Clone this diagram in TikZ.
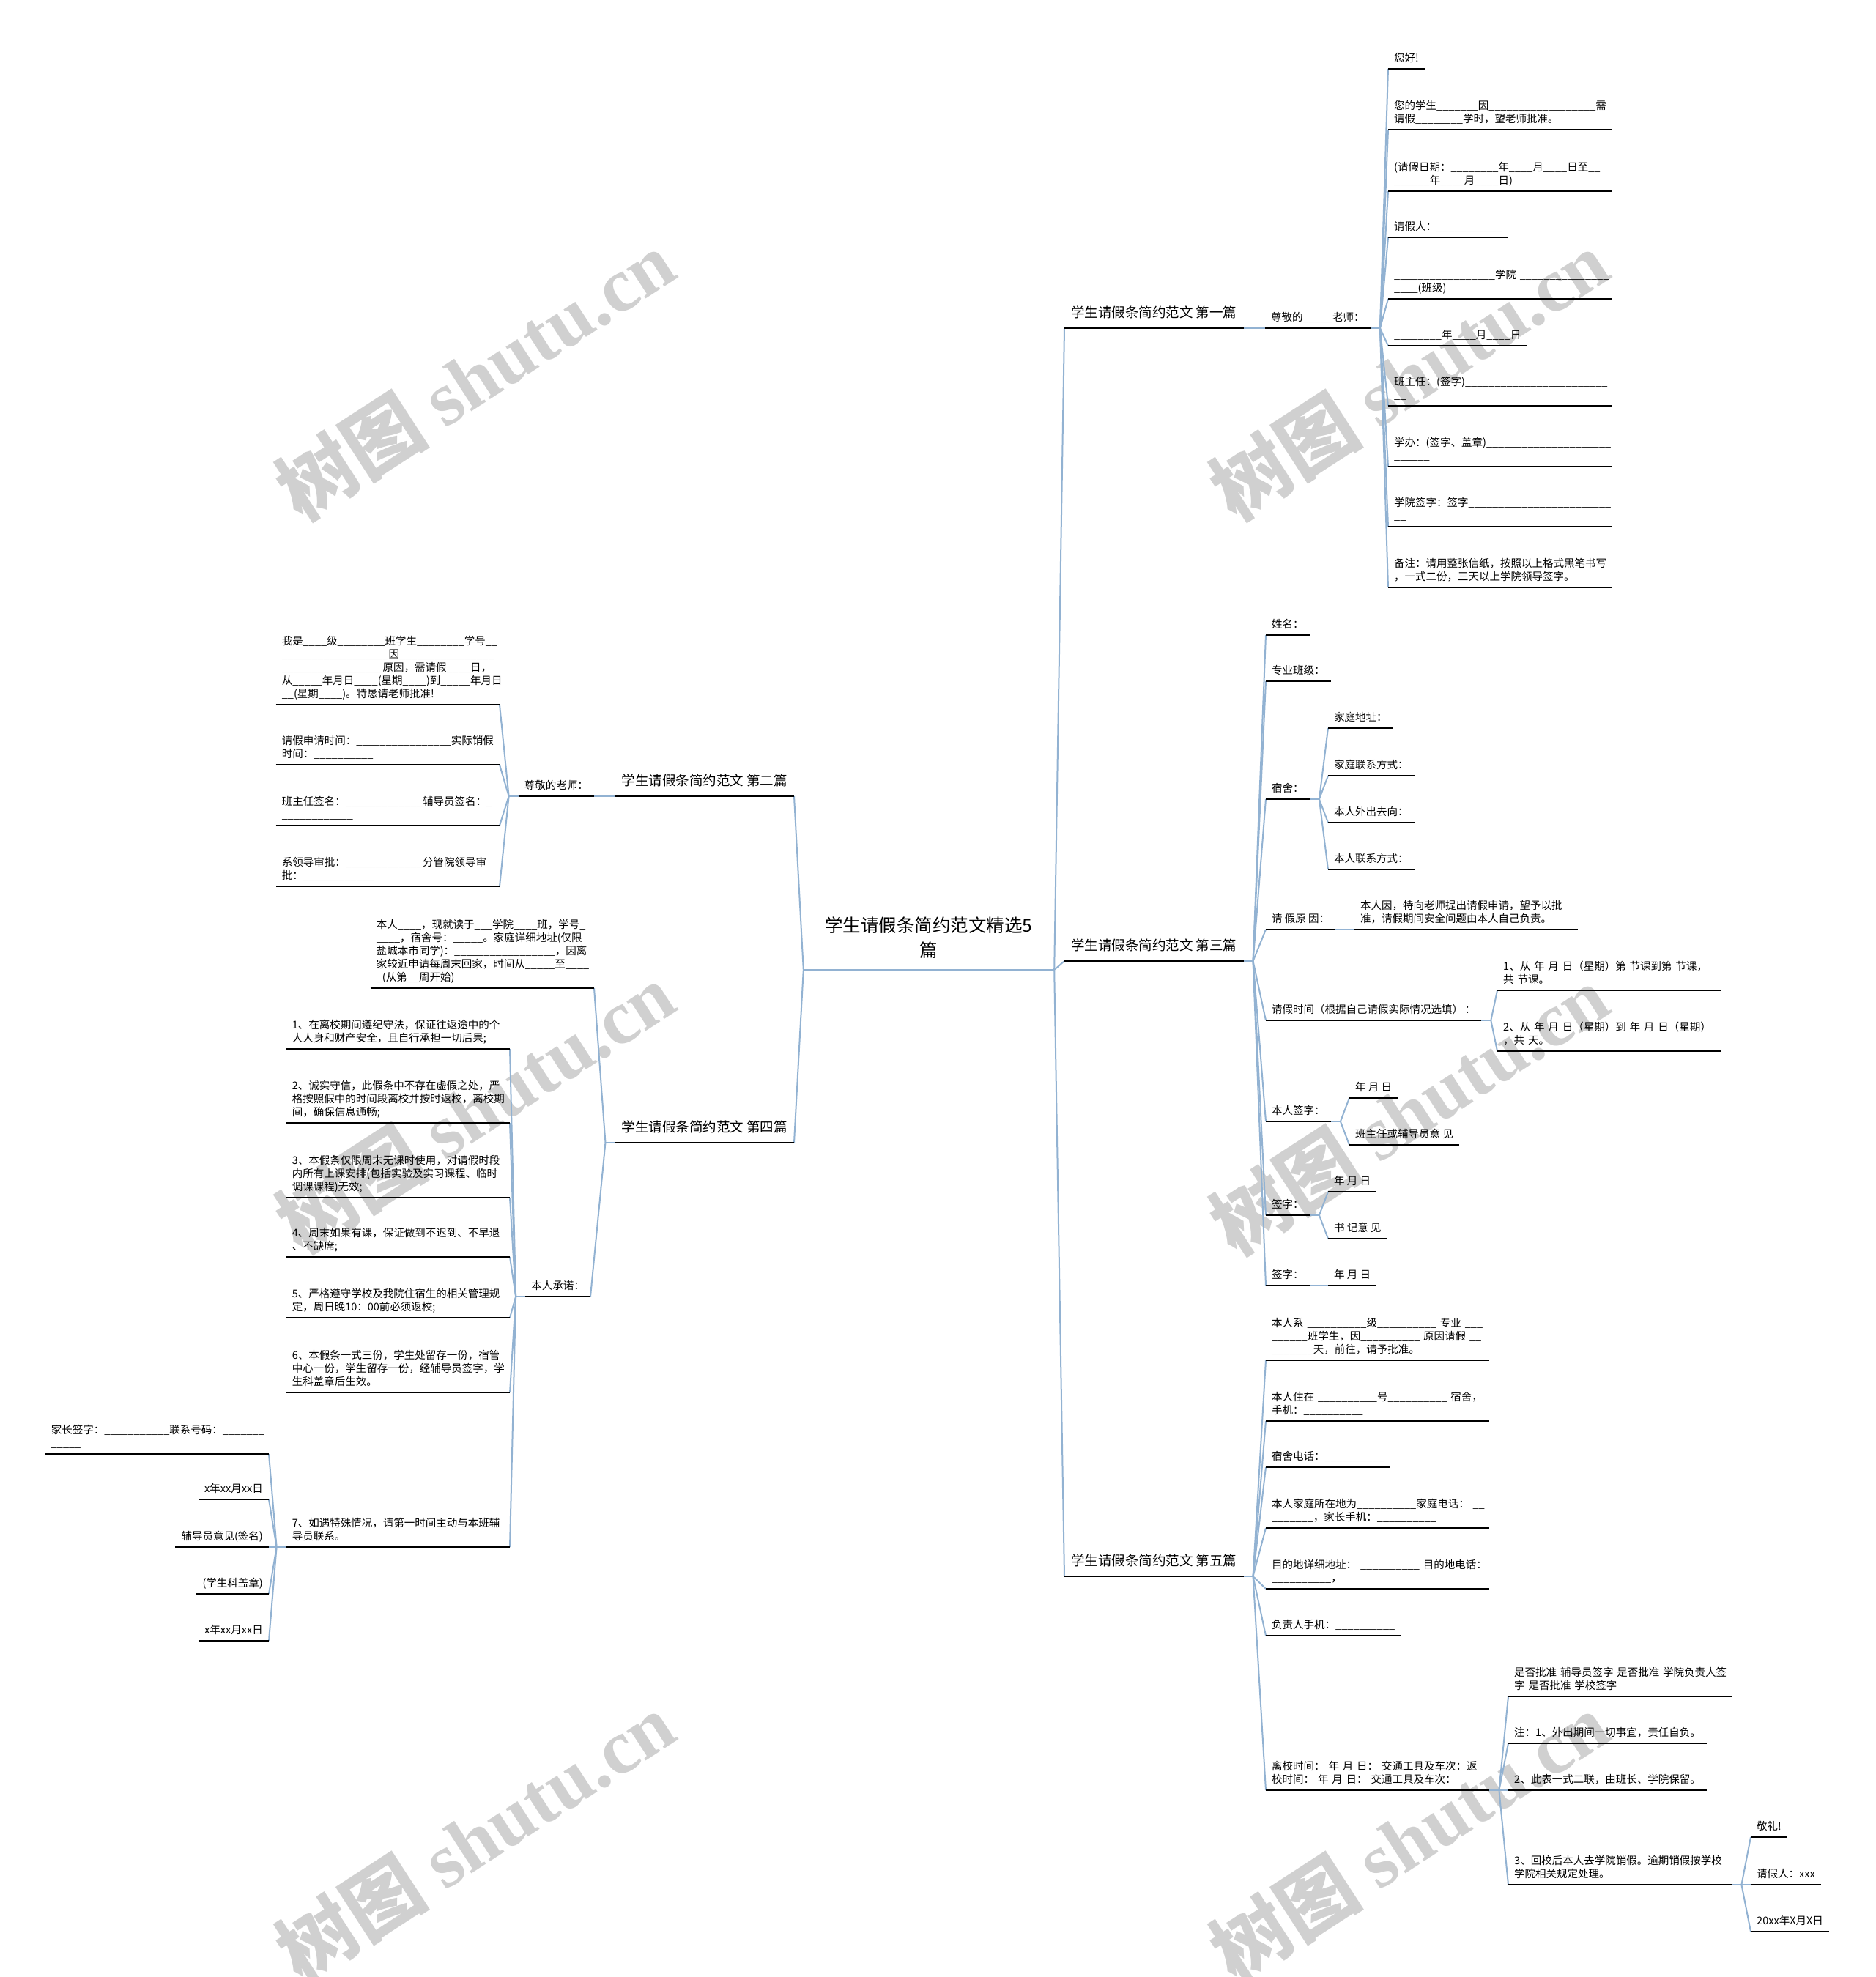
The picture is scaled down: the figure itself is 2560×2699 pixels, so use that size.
\documentclass[tikz,border=0pt]{standalone}
\usepackage{fontspec}
\setmainfont{Noto Sans CJK SC}
\newfontfamily\wmserif{Liberation Serif}
\usetikzlibrary{calc}
\definecolor{linkblue}{RGB}{146,178,210}
\definecolor{wmgray}{RGB}{208,208,208}
\newcommand\bl[1]{\ifnum#1>0 \_\expandafter\bl\expandafter{\the\numexpr#1-1\relax}\fi}
\begin{document}
\begin{tikzpicture}[x=1pt,y=-1pt,
  leaf/.style={inner xsep=8pt,inner ysep=3.6pt,font=\fontsize{14.5}{18}\selectfont,align=left,anchor=south west,execute at end node=\strut},
  leafl/.style={leaf,anchor=south east},
  wide/.style={text width=289pt},
  branch/.style={inner xsep=9pt,inner ysep=7.4pt,font=\fontsize{18.5}{22}\selectfont,anchor=south west,execute at end node=\strut},
  branchl/.style={branch,anchor=south east},
  root/.style={inner xsep=21pt,inner ysep=6.8pt,font=\fontsize{24.5}{34}\selectfont,align=center,text width=300pt,anchor=south,execute at end node=\strut},
  conn/.style={draw=linkblue,line width=2pt},
  uline/.style={draw=black,line width=2.4pt},
  wm/.style={text=wmgray,rotate=33,font=\fontsize{105}{110}\selectfont\bfseries}
]
\useasboundingbox (0,0) rectangle (2560,2699);
% watermarks
\foreach \p [count=\i] in {(648,512),(1923,512),(648,1512),(1923,1515),(648,2508),(1923,2508)}
  \node[wm] (wm\i) at \p {树图 {\wmserif shutu.cn}};

% root
\node[root] (root) at (1268,1324) {学生请假条简约范文精选5\\篇};

% ---------- branch 1
\node[branch] (b1) at (1453,448) {学生请假条简约范文 第一篇};
\node[leaf] (b1t) at (1727,448) {尊敬的\bl{5}老师：};
\node[leaf] (r1a) at (1895,94) {您好!};
\node[leaf,wide] (r1b) at (1895,177) {您的学生\bl{7}因\bl{18}需\\请假\bl{8}学时，望老师批准。};
\node[leaf,wide] (r1c) at (1895,261) {(请假日期：\bl{8}年\bl{4}月\bl{4}日至\bl{2}\\\bl{6}年\bl{4}月\bl{4}日)};
\node[leaf] (r1d) at (1895,324) {请假人：\bl{11}};
\node[leaf,wide] (r1e) at (1895,408) {\bl{17}学院~\bl{15}\\\bl{4}(班级)};
\node[leaf] (r1f) at (1895,472) {\bl{8}年\bl{4}月\bl{4}日};
\node[leaf,wide] (r1g) at (1895,554) {班主任：(签字)\bl{24}\\\bl{2}};
\node[leaf,wide] (r1h) at (1895,637) {学办：(签字、盖章)\bl{21}\\\bl{6}};
\node[leaf,wide] (r1i) at (1895,719) {学院签字：签字\bl{24}\\\bl{2}};
\node[leaf,wide] (r1j) at (1895,802) {备注：请用整张信纸，按照以上格式黑笔书写\\，一式二份，三天以上学院领导签字。};

% ---------- branch 3
\node[branch] (b3) at (1453,1312) {学生请假条简约范文 第三篇};
\node[leaf] (r3a) at (1728,867) {姓名：};
\node[leaf] (r3b) at (1728,930) {专业班级：};
\node[leaf] (r3c) at (1728,1091) {宿舍：};
\node[leaf] (r3c1) at (1813,994) {家庭地址：};
\node[leaf] (r3c2) at (1813,1059) {家庭联系方式：};
\node[leaf] (r3c3) at (1813,1123) {本人外出去向：};
\node[leaf] (r3c4) at (1813,1187) {本人联系方式：};
\node[leaf] (r3d) at (1728,1269) {请 假原 因：};
\node[leaf,wide] (r3d1) at (1849,1269) {本人因，特向老师提出请假申请，望予以批\\准，请假期间安全问题由本人自己负责。};
\node[leaf] (r3e) at (1728,1393) {请假时间（根据自己请假实际情况选填）\,：};
\node[leaf,wide] (r3e1) at (2044,1352) {1、从~年~月~日（星期）第~节课到第~节课，\\共~节课。};
\node[leaf,wide] (r3e2) at (2044,1435) {2、从~年~月~日（星期）到~年~月~日（星期）\\，共~天。};
\node[leaf] (r3f) at (1728,1531) {本人签字：};
\node[leaf] (r3f1) at (1842,1499) {年 月 日};
\node[leaf] (r3f2) at (1842,1563) {班主任或辅导员意 见};
\node[leaf] (r3g) at (1728,1659) {签字：};
\node[leaf] (r3g1) at (1813,1627) {年 月 日};
\node[leaf] (r3g2) at (1813,1691) {书 记意 见};
\node[leaf] (r3h) at (1728,1755) {签字：};
\node[leaf] (r3h1) at (1813,1755) {年 月 日};

% ---------- branch 5
\node[branch] (b5) at (1453,2152) {学生请假条简约范文 第五篇};
\node[leaf,wide] (r5a) at (1728,1857) {本人系~\bl{10}级\bl{10}~专业~\bl{3}\\\bl{6}班学生，因\bl{10}~原因请假~\bl{2}\\\bl{7}天，前往，请予批准。};
\node[leaf,wide] (r5b) at (1728,1940) {本人住在~\bl{10}号\bl{10}~宿舍，\\手机：\bl{10}};
\node[leaf] (r5c) at (1728,2003) {宿舍电话：\bl{10}};
\node[leaf,wide] (r5d) at (1728,2086) {本人家庭所在地为\bl{10}家庭电话：~\bl{2}\\\bl{7}，家长手机：\bl{10}};
\node[leaf,wide] (r5e) at (1728,2169) {目的地详细地址：~\bl{10}~目的地电话：\\\bl{10}，};
\node[leaf] (r5f) at (1728,2233) {负责人手机：\bl{10}};
\node[leaf,wide] (r5g) at (1728,2444) {离校时间：~年~月~日：~交通工具及车次：返\\校时间：~年~月~日：~交通工具及车次：};
\node[leaf,wide] (r5g1) at (2059,2316) {是否批准~辅导员签字~是否批准~学院负责人签\\字~是否批准~学校签字};
\node[leaf] (r5g2) at (2059,2380) {注：1、外出期间一切事宜，责任自负。};
\node[leaf] (r5g3) at (2059,2444) {2、此表一式二联，由班长、学院保留。};
\node[leaf,wide] (r5g4) at (2059,2573) {3、回校后本人去学院销假。逾期销假按学校\\学院相关规定处理。};
\node[leaf] (r5h1) at (2390,2508) {敬礼!};
\node[leaf] (r5h2) at (2390,2573) {请假人：xxx};
\node[leaf] (r5h3) at (2390,2637) {20xx年X月X日};

% ---------- branch 2 (left)
\node[branchl] (b2) at (1084,1087) {学生请假条简约范文 第二篇};
\node[leafl] (b2t) at (811,1087) {尊敬的老师：};
\node[leafl,wide] (l2a) at (682,962) {我是\bl{4}级\bl{8}班学生\bl{8}学号\bl{2}\\\bl{18}因\bl{16}\\\bl{17}原因，需请假\bl{4}日，\\从\bl{5}年月日\bl{4}(星期\bl{4})到\bl{5}年月日\\\bl{2}(星期\bl{4})。特恳请老师批准!};
\node[leafl,wide] (l2b) at (682,1044) {请假申请时间：\bl{16}实际销假\\时间：\bl{10}};
\node[leafl,wide] (l2c) at (682,1127) {班主任签名：\bl{13}辅导员签名：\bl{1}\\\bl{12}};
\node[leafl,wide] (l2d) at (682,1210) {系领导审批：\bl{13}分管院领导审\\批：\bl{12}};

% ---------- branch 4 (left)
\node[branchl] (b4) at (1084,1560) {学生请假条简约范文 第四篇};
\node[leafl,wide] (l4a) at (811,1349) {本人\bl{4}，现就读于\bl{3}学院\bl{4}班，学号\bl{1}\\\bl{4}，宿舍号：\bl{5}。家庭详细地址(仅限\\盐城本市同学)：\bl{17}，因离\\家较近申请每周末回家，时间从\bl{5}至\bl{4}\\\bl{1}(从第\bl{2}周开始)};
\node[leafl] (l4b) at (806,1770) {本人承诺：};
\node[leafl,wide] (l4b1) at (696,1432) {1、在离校期间遵纪守法，保证往返途中的个\\人人身和财产安全，且自行承担一切后果;};
\node[leafl,wide] (l4b2) at (696,1533) {2、诚实守信，此假条中不存在虚假之处，严\\格按照假中的时间段离校并按时返校，离校期\\间，确保信息通畅;};
\node[leafl,wide] (l4b3) at (696,1635) {3、本假条仅限周末无课时使用，对请假时段\\内所有上课安排(包括实验及实习课程、临时\\调课课程)无效;};
\node[leafl,wide] (l4b4) at (696,1716) {4、周末如果有课，保证做到不迟到、不早退\\、不缺席;};
\node[leafl,wide] (l4b5) at (696,1799) {5、严格遵守学校及我院住宿生的相关管理规\\定，周日晚10：00前必须返校;};
\node[leafl,wide] (l4b6) at (696,1901) {6、本假条一式三份，学生处留存一份，宿管\\中心一份，学生留存一份，经辅导员签字，学\\生科盖章后生效。};
\node[leafl,wide] (l4b7) at (696,2112) {7、如遇特殊情况，请第一时间主动与本班辅\\导员联系。};
\node[leafl,wide] (l4c1) at (367,1985) {家长签字：\bl{11}联系号码：\bl{7}\\\bl{5}};
\node[leafl] (l4c2) at (367,2047) {x年xx月xx日};
\node[leafl] (l4c3) at (367,2112) {辅导员意见(签名)};
\node[leafl] (l4c4) at (367,2176) {(学生科盖章)};
\node[leafl] (l4c5) at (367,2240) {x年xx月xx日};

% ---------- connectors
\draw[conn] (root.south west) -- (root.south east);
\foreach \b in {b1,b3,b5} \draw[conn] (root.south east) -- (\b.south west);
\foreach \b in {b2,b4} \draw[conn] (root.south west) -- (\b.south east);

\draw[conn] (b1.south east) -- (b1t.south west);
\draw[conn] (b1t.south east) -- ++(13,0) coordinate (j1);
\foreach \c in {r1a,r1b,r1c,r1d,r1e,r1f,r1g,r1h,r1i,r1j} \draw[conn] (j1) -- (\c.south west);

\draw[conn] (b3.south east) -- ++(13,0) coordinate (j3);
\foreach \c in {r3a,r3b,r3c,r3d,r3e,r3f,r3g,r3h} \draw[conn] (j3) -- (\c.south west);
\draw[conn] (r3c.south east) -- ++(13,0) coordinate (j3c);
\foreach \c in {r3c1,r3c2,r3c3,r3c4} \draw[conn] (j3c) -- (\c.south west);
\draw[conn] (r3d.south east) -- (r3d1.south west);
\draw[conn] (r3e.south east) -- ++(13,0) coordinate (j3e);
\foreach \c in {r3e1,r3e2} \draw[conn] (j3e) -- (\c.south west);
\draw[conn] (r3f.south east) -- ++(13,0) coordinate (j3f);
\foreach \c in {r3f1,r3f2} \draw[conn] (j3f) -- (\c.south west);
\draw[conn] (r3g.south east) -- ++(13,0) coordinate (j3g);
\foreach \c in {r3g1,r3g2} \draw[conn] (j3g) -- (\c.south west);
\draw[conn] (r3h.south east) -- (r3h1.south west);

\draw[conn] (b5.south east) -- ++(13,0) coordinate (j5);
\foreach \c in {r5a,r5b,r5c,r5d,r5e,r5f,r5g} \draw[conn] (j5) -- (\c.south west);
\draw[conn] (r5g.south east) -- ++(13,0) coordinate (j5g);
\foreach \c in {r5g1,r5g2,r5g3,r5g4} \draw[conn] (j5g) -- (\c.south west);
\draw[conn] (r5g4.south east) -- ++(13,0) coordinate (j5h);
\foreach \c in {r5h1,r5h2,r5h3} \draw[conn] (j5h) -- (\c.south west);

\draw[conn] (b2.south west) -- (b2t.south east);
\draw[conn] (b2t.south west) -- ++(-13,0) coordinate (j2);
\foreach \c in {l2a,l2b,l2c,l2d} \draw[conn] (j2) -- (\c.south east);

\draw[conn] (b4.south west) -- ++(-13,0) coordinate (j4);
\foreach \c in {l4a,l4b} \draw[conn] (j4) -- (\c.south east);
\draw[conn] (l4b.south west) -- ++(-13,0) coordinate (j4b);
\foreach \c in {l4b1,l4b2,l4b3,l4b4,l4b5,l4b6,l4b7} \draw[conn] (j4b) -- (\c.south east);
\draw[conn] (l4b7.south west) -- ++(-13,0) coordinate (j4c);
\foreach \c in {l4c1,l4c2,l4c3,l4c4,l4c5} \draw[conn] (j4c) -- (\c.south east);

% ---------- underlines
\foreach \n in {b1,b1t,r1a,r1b,r1c,r1d,r1e,r1f,r1g,r1h,r1i,r1j,
  b3,r3a,r3b,r3c,r3c1,r3c2,r3c3,r3c4,r3d,r3d1,r3e,r3e1,r3e2,r3f,r3f1,r3f2,r3g,r3g1,r3g2,r3h,r3h1,
  b5,r5a,r5b,r5c,r5d,r5e,r5f,r5g,r5g1,r5g2,r5g3,r5g4,r5h1,r5h2,r5h3,
  b2,b2t,l2a,l2b,l2c,l2d,
  b4,l4a,l4b,l4b1,l4b2,l4b3,l4b4,l4b5,l4b6,l4b7,l4c1,l4c2,l4c3,l4c4,l4c5}
  \draw[uline] (\n.south west) -- (\n.south east);
\end{tikzpicture}
\end{document}
